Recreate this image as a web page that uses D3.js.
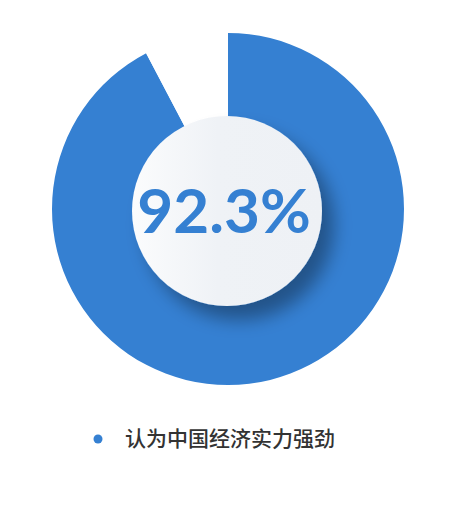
<!DOCTYPE html>
<html>
<head>
<meta charset="utf-8">
<script src="https://cdn.jsdelivr.net/npm/d3@7"></script>
<style>
  html, body { margin: 0; padding: 0; background: #fff; }
  #chart { width: 450px; height: 510px; }
</style>
</head>
<body>
<div id="chart"></div>
<script>
// data
const labels = ["认为中国经济实力强劲", "其他"];
const values = [92.3, 7.7];
const colors = ["#3580d2", "#ffffff"];
const centerText = "92.3%";

const width = 450, height = 510;
const cx = 228, cy = 209, outerR = 176, innerR = 95;

const svg = d3.select("#chart").append("svg")
    .attr("width", width)
    .attr("height", height);

const defs = svg.append("defs");

// shadow under the centre disc
const f = defs.append("filter").attr("id", "shadow")
    .attr("x", "-50%").attr("y", "-50%").attr("width", "200%").attr("height", "200%");
f.append("feGaussianBlur").attr("in", "SourceAlpha").attr("stdDeviation", 9);
f.append("feOffset").attr("dx", 12).attr("dy", 14).attr("result", "off");
f.append("feComponentTransfer").append("feFuncA").attr("type", "linear").attr("slope", 0.35);
const merge = f.append("feMerge");
merge.append("feMergeNode");
merge.append("feMergeNode").attr("in", "SourceGraphic");

const grad = defs.append("linearGradient").attr("id", "disc")
    .attr("x1", "0%").attr("y1", "0%").attr("x2", "100%").attr("y2", "0%");
grad.append("stop").attr("offset", "0%").attr("stop-color", "#fbfcfd");
grad.append("stop").attr("offset", "45%").attr("stop-color", "#eff2f6");
grad.append("stop").attr("offset", "100%").attr("stop-color", "#eef1f5");

const pie = d3.pie().sort(null).value(d => d);
const arc = d3.arc().innerRadius(0).outerRadius(outerR);

const g = svg.append("g").attr("transform", `translate(${cx},${cy})`);

g.selectAll("path.slice")
    .data(pie(values))
    .enter()
    .append("path")
    .attr("class", "slice")
    .attr("d", arc)
    .attr("fill", (d, i) => colors[i]);

// centre disc
svg.append("circle")
    .attr("cx", cx - 1)
    .attr("cy", cy + 2)
    .attr("r", innerR)
    .attr("fill", "url(#disc)")
    .attr("filter", "url(#shadow)");

svg.append("text")
    .attr("x", cx - 4)
    .attr("y", 233)
    .attr("text-anchor", "middle")
    .attr("font-family", "Lato, 'Open Sans', sans-serif")
    .attr("font-weight", "bold")
    .attr("font-size", 62)
    .attr("fill", colors[0])
    .text(centerText);

// legend
const legend = svg.append("g").attr("transform", "translate(98,439)");
legend.append("circle")
    .attr("r", 4.5)
    .attr("fill", colors[0]);
legend.append("text")
    .attr("x", 27)
    .attr("y", 7)
    .attr("font-family", "'Noto Sans CJK SC', sans-serif")
    .attr("font-weight", 500)
    .attr("font-size", 21)
    .attr("fill", "#333")
    .text(labels[0]);
</script>
</body>
</html>
